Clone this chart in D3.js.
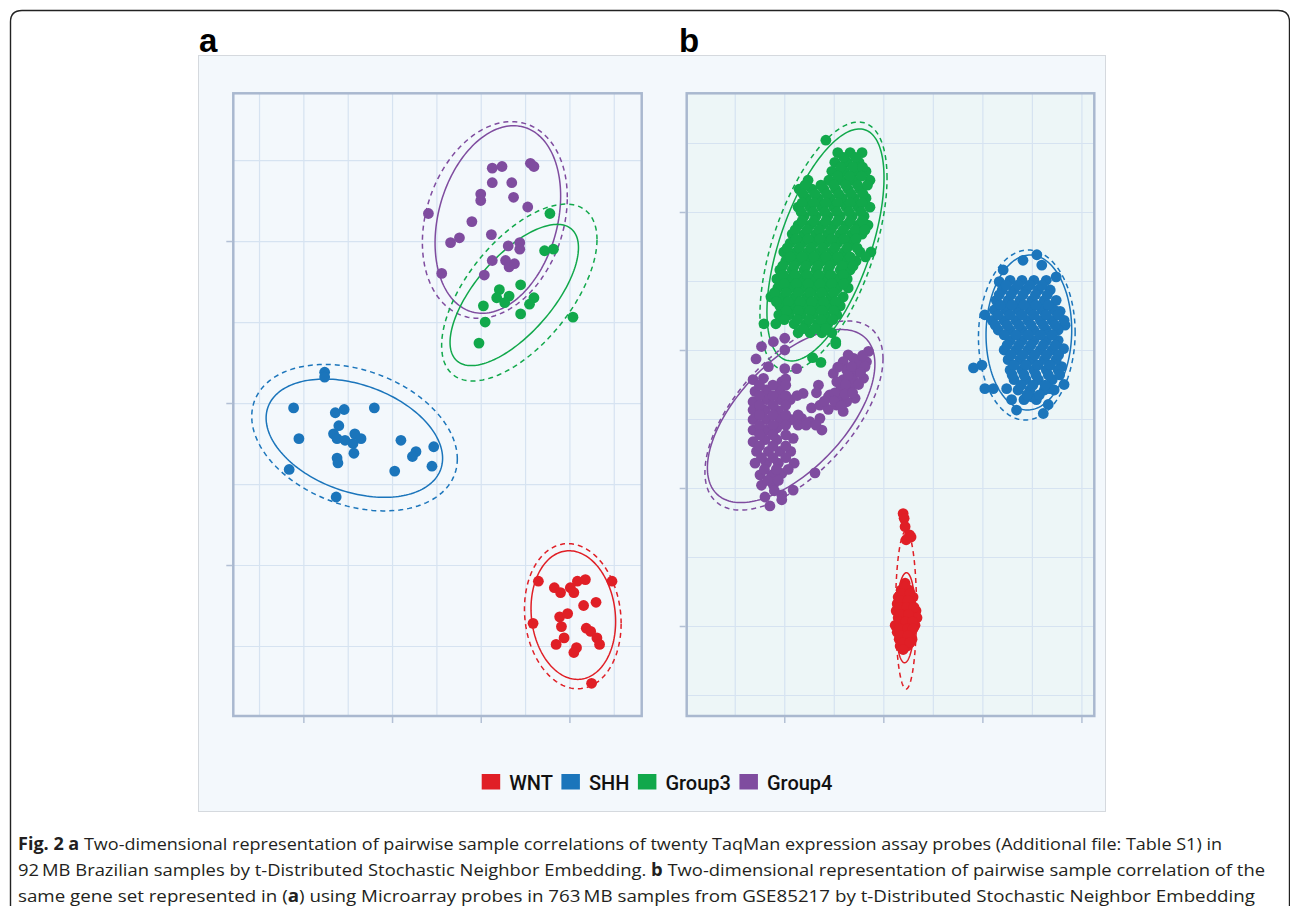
<!DOCTYPE html>
<html>
<head>
<meta charset="utf-8">
<script src="https://cdn.jsdelivr.net/npm/d3@7"></script>
<style>
  body { margin: 0; background: #fff; }
  svg { display: block; }
</style>
</head>
<body>
<svg id="fig" width="1290" height="906"></svg>
<script>
// ---- categories / colours ----
const groups = ["WNT", "SHH", "Group3", "Group4"];
const groupColors = ["#e01f26", "#1b75bb", "#11a84b", "#7f4c9f"];

// ---- panel a: 92 MB Brazilian samples (t-SNE coordinates) ----
const aWNT = [[16.5,-11.0],[24.8,-11.0],[18.3,-11.4],[19.0,-11.7],[20.1,-11.4],[20.5,-11.7],[20.9,-11.0],[21.8,-10.9],
  [21.6,-12.5],[23.0,-12.3],[15.9,-13.6],[18.9,-13.2],[19.8,-13.0],[19.1,-13.8],[19.4,-14.5],[18.5,-14.9],
  [21.9,-13.9],[22.4,-14.1],[23.1,-14.5],[23.4,-14.9],[20.8,-15.1],[20.5,-15.4],[22.5,-17.3]];
const aSHH = [[-7.6,1.9],[-7.6,1.6],[-11.1,-0.3],[-6.4,-0.6],[-5.4,-0.4],[-2.0,-0.3],[-10.5,-2.2],[-6.0,-1.4],
  [-6.6,-1.9],[-6.2,-2.2],[-5.3,-2.3],[-4.2,-1.9],[-4.4,-2.5],[-3.5,-2.2],[-4.3,-3.1],[-6.2,-3.4],[-6.1,-3.7],
  [1.0,-2.3],[4.7,-2.7],[2.7,-3.0],[2.3,-3.3],[4.5,-3.9],[0.3,-4.2],[-11.6,-4.1],[-6.3,-5.8]];
const aGroup3 = [[17.8,11.7],[17.2,9.4],[18.2,9.5],[14.5,7.3],[12.1,7.0],[11.8,6.5],[13.2,6.6],[12.7,6.2],
  [16.0,6.5],[15.5,6.1],[10.3,6.0],[14.5,5.5],[10.5,5.0],[20.4,5.3],[9.8,3.7]];
const aGroup4 = [[11.3,14.5],[12.4,14.6],[15.6,14.8],[16.0,14.6],[11.3,13.6],[13.5,13.6],[10.0,12.9],[10.0,12.5],
  [13.7,12.7],[15.3,12.1],[4.1,11.7],[9.0,11.2],[6.6,9.9],[7.6,10.2],[11.2,10.4],[13.1,9.7],[14.4,9.9],
  [14.4,9.5],[11.3,8.8],[12.8,8.8],[13.2,8.4],[13.8,8.6],[5.6,8.0],[10.4,7.9]];

// ellipses: centre, half-extent on each axis, correlation; "norm" solid, "t" dashed
const aEllipses = [
  {group: "Group4", level: "norm", cx: 11.93, cy: 11.33, hx: 7.08, hy: 5.79, r: 0.25},
  {group: "Group4", level: "t",    cx: 11.59, cy: 11.30, hx: 8.17, hy: 6.07, r: 0.23},
  {group: "Group3", level: "norm", cx: 13.78, cy: 6.67, hx: 7.24, hy: 4.36, r: 0.67},
  {group: "Group3", level: "t",    cx: 14.35, cy: 6.82, hx: 8.76, hy: 5.46, r: 0.60},
  {group: "SHH",    level: "norm", cx: -4.25, cy: -2.17, hx: 9.95, hy: 3.65, r: -0.34},
  {group: "SHH",    level: "t",    cx: -4.23, cy: -2.14, hx: 11.59, hy: 4.52, r: -0.29},
  {group: "WNT",    level: "norm", cx: 20.44, cy: -13.09, hx: 4.77, hy: 3.97, r: -0.10},
  {group: "WNT",    level: "t",    cx: 20.38, cy: -13.16, hx: 5.45, hy: 4.48, r: -0.10}
];

// ---- panel b: 763 MB samples, GSE85217 ----
const bWNT = [[4.0,-23.7],[4.2,-24.4],[4.4,-25.6],[5.3,-26.8],[4.6,-27.5],[5.6,-27.1],
  [4.4,-33.8],[3.6,-34.8],[5.2,-34.8],[3.0,-35.8],[4.6,-35.8],[6.0,-35.8],
  [2.8,-36.8],[4.2,-36.8],[5.6,-36.8],[2.6,-37.8],[4.0,-37.8],[5.4,-37.8],[6.6,-37.8],
  [3.0,-38.8],[4.4,-38.8],[5.8,-38.8],[6.8,-38.8],[2.4,-39.9],[3.8,-39.9],[5.2,-39.9],[6.4,-39.9],
  [2.8,-40.9],[4.2,-40.9],[5.6,-40.9],[3.2,-41.9],[4.6,-41.9],[5.8,-41.9],[3.4,-42.9],[4.8,-42.9],
  [4.4,-34.3],[3.8,-35.3],[5.4,-35.3],[3.4,-36.3],[5.0,-36.3],[3.3,-37.3],[4.8,-37.3],[6.2,-37.3],
  [3.5,-38.3],[5.1,-38.3],[3.2,-39.4],[4.5,-39.4],[5.9,-39.4],[3.2,-40.4],[4.9,-40.4],[6.0,-40.4],
  [3.5,-41.4],[5.0,-41.4],[4.0,-42.4],[5.4,-42.4],[4.0,-43.4]];
const bSHH = [[31.0,13.8],[28.2,13.0],[32.0,12.3],[24.2,11.6],[34.9,10.6],[23.4,9.9],[20.5,5.1],[18.2,-2.6],
  [19.9,-2.2],[20.5,-5.6],[22.2,-5.6],[24.9,-5.6],[36.7,3.6],[35.7,5.6],[36.4,0.2],[36.0,-2.4],[36.5,-5.0],
  [33.5,-5.6],[33.3,-7.9],[32.3,-9.2],[25.9,-7.2],[26.9,-8.7],[30.0,-6.8],
  [25.6,10.1],[28.0,10.1],[30.4,10.1],[32.9,10.1],
  [24.0,8.7],[26.4,8.7],[28.8,8.7],[31.3,8.7],[33.7,8.7],
  [22.8,7.2],[25.2,7.2],[27.6,7.2],[30.0,7.2],[32.5,7.2],[34.9,7.2],
  [22.4,5.8],[24.8,5.8],[27.2,5.8],[29.6,5.8],[32.1,5.8],[34.5,5.8],
  [22.0,4.3],[24.4,4.3],[26.8,4.3],[29.2,4.3],[31.7,4.3],[34.1,4.3],[36.5,4.3],
  [23.2,2.9],[25.6,2.9],[28.0,2.9],[30.4,2.9],[32.9,2.9],[35.3,2.9],
  [25.6,1.4],[28.0,1.4],[30.4,1.4],[32.9,1.4],[35.3,1.4],
  [24.4,0.0],[26.8,0.0],[29.2,0.0],[31.7,0.0],[34.1,0.0],
  [25.2,-1.4],[27.6,-1.4],[30.0,-1.4],[32.5,-1.4],[34.9,-1.4],
  [25.6,-2.9],[28.0,-2.9],[30.4,-2.9],[32.9,-2.9],[35.3,-2.9],
  [26.4,-4.3],[28.8,-4.3],[31.3,-4.3],[34.1,-4.3],
  [27.2,-5.8],[29.6,-5.8],[32.5,-5.8],[34.5,-5.8],[28.4,-7.2],[30.9,-7.2],
  [24.8,9.4],[27.2,9.4],[29.6,9.4],[32.1,9.4],
  [23.4,8.0],[25.8,8.0],[28.2,8.0],[30.7,8.0],[33.1,8.0],
  [23.6,6.5],[26.0,6.5],[28.4,6.5],[30.8,6.5],[33.3,6.5],
  [23.2,5.1],[25.6,5.1],[28.0,5.1],[30.4,5.1],[32.9,5.1],[35.3,5.1],
  [22.6,3.6],[25.0,3.6],[27.4,3.6],[29.8,3.6],[32.3,3.6],[34.7,3.6],
  [24.4,2.2],[26.8,2.2],[29.2,2.2],[31.7,2.2],[34.1,2.2],
  [25.0,0.7],[27.4,0.7],[29.8,0.7],[32.3,0.7],[34.7,0.7],
  [25.8,-0.7],[28.2,-0.7],[30.6,-0.7],[33.0,-0.7],[35.4,-0.7],
  [26.4,-2.2],[28.8,-2.2],[31.2,-2.2],[33.7,-2.2],
  [26.0,-3.6],[28.4,-3.6],[30.8,-3.6],[33.3,-3.6],[35.6,-3.6],
  [27.8,-5.1],[30.2,-5.1],[32.7,-5.1],[29.0,-6.5],[31.5,-6.5]];
const bGroup3 = [[-9.2,28.6],[-6.7,28.6],[-4.3,28.6],[-9.8,27.2],[-7.3,27.2],[-4.9,27.2],
  [-10.4,25.9],[-7.9,25.9],[-5.5,25.9],[-3.5,25.9],
  [-15.2,24.6],[-11.0,24.6],[-8.5,24.6],[-6.1,24.6],[-2.7,24.6],
  [-17.0,23.3],[-14.4,23.3],[-12.0,23.3],[-9.6,23.3],[-7.1,23.3],[-4.7,23.3],
  [-15.6,22.0],[-13.2,22.0],[-10.8,22.0],[-8.3,22.0],[-5.9,22.0],[-3.5,22.0],
  [-17.2,20.7],[-14.8,20.7],[-12.4,20.7],[-10.0,20.7],[-7.5,20.7],[-5.1,20.7],[-2.7,20.7],
  [-16.0,19.4],[-13.6,19.4],[-11.2,19.4],[-8.7,19.4],[-6.3,19.4],[-3.9,19.4],
  [-17.2,18.1],[-14.8,18.1],[-12.4,18.1],[-10.0,18.1],[-7.5,18.1],[-5.1,18.1],[-3.1,18.1],
  [-18.4,16.8],[-16.0,16.8],[-13.6,16.8],[-11.2,16.8],[-8.7,16.8],[-6.3,16.8],[-4.3,16.8],
  [-18.8,15.5],[-16.4,15.5],[-14.0,15.5],[-11.6,15.5],[-9.2,15.5],[-6.7,15.5],
  [-20.1,14.2],[-17.6,14.2],[-15.2,14.2],[-12.8,14.2],[-10.4,14.2],[-7.9,14.2],[-4.7,14.2],[-2.5,14.2],
  [-19.7,12.9],[-17.2,12.9],[-14.8,12.9],[-12.4,12.9],[-10.0,12.9],[-7.5,12.9],[-5.5,12.9],
  [-20.9,11.6],[-18.4,11.6],[-16.0,11.6],[-13.6,11.6],[-11.2,11.6],[-8.7,11.6],[-6.7,11.6],
  [-21.5,10.3],[-19.0,10.3],[-16.6,10.3],[-14.2,10.3],[-11.8,10.3],[-9.4,10.3],[-7.3,10.3],
  [-21.3,9.0],[-18.8,9.0],[-16.4,9.0],[-14.0,9.0],[-11.6,9.0],[-9.2,9.0],[-7.1,9.0],
  [-22.7,7.7],[-20.3,7.7],[-17.8,7.7],[-15.4,7.7],[-13.0,7.7],[-10.6,7.7],[-8.1,7.7],
  [-20.9,6.4],[-18.4,6.4],[-16.0,6.4],[-13.6,6.4],[-11.2,6.4],[-8.7,6.4],
  [-21.1,5.1],[-19.0,5.1],[-16.6,5.1],[-14.2,5.1],[-11.8,5.1],[-9.4,5.1],
  [-24.1,3.8],[-21.7,3.8],[-18.0,3.8],[-15.6,3.8],[-13.2,3.8],[-11.2,3.8],
  [-17.2,2.5],[-14.8,2.5],[-12.4,2.5],[-10.4,2.5],[-9.6,1.2],
  [-11.6,30.4],[-14.3,-1.1],[-12.6,-1.8],[-9.6,0.9],
  [-8.0,27.9],[-5.6,27.9],[-8.6,26.5],[-6.1,26.5],[-4.2,26.5],[-9.2,25.2],[-6.8,25.2],[-4.4,25.2],
  [-15.8,23.9],[-12.6,23.9],[-10.0,23.9],[-7.6,23.9],[-5.2,23.9],[-3.2,23.9],
  [-16.2,22.6],[-13.8,22.6],[-11.4,22.6],[-9.0,22.6],[-6.5,22.6],[-4.1,22.6],
  [-16.4,21.3],[-14.0,21.3],[-11.6,21.3],[-9.2,21.3],[-6.7,21.3],[-4.3,21.3],
  [-16.6,20.0],[-14.2,20.0],[-11.8,20.0],[-9.4,20.0],[-6.9,20.0],[-4.5,20.0],
  [-16.4,18.7],[-14.0,18.7],[-11.6,18.7],[-9.2,18.7],[-6.7,18.7],[-4.3,18.7],
  [-17.8,17.4],[-15.4,17.4],[-13.0,17.4],[-10.6,17.4],[-8.1,17.4],[-5.7,17.4],[-3.7,17.4],
  [-17.6,16.1],[-15.2,16.1],[-12.8,16.1],[-10.4,16.1],[-7.9,16.1],[-5.5,16.1],
  [-19.4,14.8],[-17.0,14.8],[-14.6,14.8],[-12.2,14.8],[-9.8,14.8],[-7.3,14.8],[-5.3,14.8],
  [-18.8,13.5],[-16.4,13.5],[-14.0,13.5],[-11.6,13.5],[-9.2,13.5],[-6.7,13.5],[-3.6,13.5],
  [-20.3,12.2],[-18.0,12.2],[-15.6,12.2],[-13.2,12.2],[-10.8,12.2],[-8.3,12.2],[-6.1,12.2],
  [-20.2,10.9],[-17.8,10.9],[-15.4,10.9],[-13.0,10.9],[-10.6,10.9],[-8.1,10.9],
  [-20.0,9.6],[-17.6,9.6],[-15.2,9.6],[-12.8,9.6],[-10.4,9.6],[-8.0,9.6],
  [-22.0,8.3],[-19.6,8.3],[-17.2,8.3],[-14.8,8.3],[-12.4,8.3],[-10.0,8.3],
  [-21.6,7.0],[-19.2,7.0],[-16.8,7.0],[-14.4,7.0],[-12.0,7.0],[-9.6,7.0],
  [-19.6,5.7],[-17.2,5.7],[-14.8,5.7],[-12.4,5.7],[-10.0,5.7],
  [-20.0,4.4],[-17.4,4.4],[-15.0,4.4],[-12.6,4.4],[-10.2,4.4],
  [-16.2,3.1],[-13.8,3.1],[-11.6,3.1]];
const bGroup4 = [[-24.6,0.5],[-25.7,-1.3],[-19.9,1.7],[-19.9,0.0],[-22.2,1.2],[-23.2,-2.4],[-19.9,-2.7],[-17.5,-2.7],
  [-26.3,-4.3],[-24.2,-4.1],[-20.5,-4.6],[-19.7,-4.2],[-16.2,-6.3],[-13.1,-5.1],[-13.5,-6.2],
  [-25.9,-6.0],[-23.6,-5.8],[-20.9,-5.8],[-26.3,-7.5],[-23.6,-7.2],[-20.9,-7.2],[-18.8,-7.2],
  [-26.3,-8.7],[-23.9,-8.7],[-21.2,-8.8],
  [-26.3,-10.1],[-23.6,-10.1],[-20.9,-10.1],[-18.5,-10.1],[-16.5,-9.9],[-14.8,-10.4],[-12.8,-9.9],
  [-14.5,-8.4],[-12.8,-8.0],[-11.1,-8.6],[-12.4,-11.6],
  [-26.3,-11.6],[-23.6,-11.6],[-21.5,-11.3],[-26.3,-13.3],[-23.9,-13.0],[-21.5,-13.0],[-18.2,-12.8],
  [-25.6,-14.7],[-23.2,-14.7],[-20.9,-14.7],[-18.7,-14.7],[-25.9,-16.4],[-23.6,-16.4],[-21.2,-16.4],[-18.0,-16.4],
  [-24.9,-18.1],[-22.5,-18.1],[-20.5,-17.9],[-24.6,-19.6],[-22.2,-19.6],
  [-23.9,-21.3],[-20.5,-21.0],[-18.2,-20.3],[-13.8,-17.8],[-22.9,-22.6],[-20.5,-21.7],
  [-3.0,-0.2],[-7.1,-0.7],[-8.1,-1.7],[-5.1,-1.9],[-3.4,-1.7],[-10.1,-3.4],[-7.4,-2.9],[-5.4,-3.1],
  [-3.7,-2.4],[-8.1,-4.3],[-6.1,-4.3],[-4.0,-4.1],[-8.7,-5.8],[-6.7,-5.6],[-10.8,-6.5],[-8.7,-7.0],
  [-5.7,-7.0],[-7.4,-7.5],[-8.1,-8.9],[-9.4,-8.0],[-11.1,-6.8],
  [-25.0,-5.1],[-22.3,-5.1],[-19.7,-5.1],[-25.0,-6.6],[-22.3,-6.6],[-19.7,-6.6],[-17.4,-6.6],
  [-25.0,-8.0],[-22.3,-8.0],[-19.7,-8.0],[-25.0,-9.4],[-22.3,-9.4],[-19.7,-9.4],[-17.2,-9.4],
  [-25.0,-10.9],[-22.3,-10.9],[-19.7,-10.9],[-17.2,-10.9],[-15.6,-10.9],[-13.6,-10.9],
  [-25.0,-12.3],[-22.3,-12.3],[-19.7,-12.3],[-25.0,-13.9],[-22.3,-13.9],[-19.7,-13.9],
  [-24.6,-15.6],[-22.3,-15.6],[-19.7,-15.6],[-24.0,-17.3],[-21.6,-17.3],[-19.2,-17.3],
  [-23.4,-18.9],[-21.2,-18.9],[-22.0,-20.4],
  [-6.0,-1.2],[-4.2,-0.8],[-9.2,-2.5],[-6.4,-2.4],[-4.6,-3.3],[-7.1,-3.7],[-9.4,-4.6],[-5.0,-5.0],
  [-7.6,-5.0],[-9.8,-6.2],[-7.7,-6.4],[-6.2,-6.2],[-9.9,-7.4],[-8.5,-8.1],[-11.9,-7.4]];

const bEllipses = [
  {group: "Group3", level: "norm", cx: -11.68, cy: 15.22, hx: 11.82, hy: 16.81, r: 0.58},
  {group: "Group3", level: "t",    cx: -12.08, cy: 15.00, hx: 12.83, hy: 18.04, r: 0.55},
  {group: "Group4", level: "norm", cx: -18.61, cy: -9.57, hx: 16.91, hy: 12.54, r: 0.60},
  {group: "Group4", level: "t",    cx: -18.04, cy: -9.49, hx: 17.98, hy: 13.70, r: 0.60},
  {group: "SHH",    level: "norm", cx: 29.39, cy: 2.54, hx: 8.65, hy: 11.23, r: 0.03},
  {group: "SHH",    level: "t",    cx: 28.97, cy: 2.17, hx: 9.76, hy: 12.32, r: 0.03},
  {group: "WNT",    level: "norm", cx: 4.48, cy: -38.80, hx: 1.92, hy: 6.52, r: 0.10},
  {group: "WNT",    level: "t",    cx: 4.59, cy: -37.68, hx: 2.12, hy: 11.45, r: 0.00}
];

// grid / tick values (no labels shown in the figure)
const aGridX = [-15, -10, -5, 0, 5, 10, 15, 20, 25], aMajorX = [-10, 0, 10, 20];
const aGridY = [-15, -10, -5, 0, 5, 10, 15],        aMajorY = [-10, 0, 10];
const bGridX = [-30, -20, -10, 0, 10, 20, 30, 40],  bMajorX = [-20, 0, 20, 40];
const bGridY = [30, 20, 10, 0, -10, -20, -30, -40, -50], bMajorY = [20, 0, -20, -40];

const captionLines = [
  [["Fig. 2 a", true], [" Two-dimensional representation of pairwise sample correlations of twenty TaqMan expression assay probes (Additional file: Table S1) in", false]],
  [["92\u2009MB Brazilian samples by t-Distributed Stochastic Neighbor Embedding. ", false], ["b", true], [" Two-dimensional representation of pairwise sample correlation of the", false]],
  [["same gene set represented in (", false], ["a", true], [") using Microarray probes in 763\u2009MB samples from GSE85217 by t-Distributed Stochastic Neighbor Embedding", false]]
];
const captionWidths = [1204, 1247, 1237];

// -------------------------------------------------------------
const svg = d3.select("#fig");
const color = d3.scaleOrdinal().domain(groups).range(groupColors);

// outer rounded frame of the figure box
svg.append("path")
  .attr("d", "M10.5,906 V22 Q10.5,10.5 22,10.5 H1278 Q1289.5,10.5 1289.5,22 V906")
  .attr("fill", "none").attr("stroke", "#222").attr("stroke-width", 1.4);

// light figure background
svg.append("rect")
  .attr("x", 198.5).attr("y", 55.5).attr("width", 907).attr("height", 756)
  .attr("fill", "#f3f8fc").attr("stroke", "#d5d9de").attr("stroke-width", 1);

function drawPanel(opt) {
  const { x0, x1, y0, y1, xDom, yDom, gridX, gridY, majorX, majorY, series, ellipses, fill, label } = opt;
  const x = d3.scaleLinear().domain(xDom).range([x0, x1]);
  const y = d3.scaleLinear().domain(yDom).range([y1, y0]);
  const g = svg.append("g");

  g.append("rect").attr("x", x0).attr("y", y0).attr("width", x1 - x0).attr("height", y1 - y0)
    .attr("fill", fill);

  // gridlines
  g.append("g").attr("transform", `translate(0,${y1})`)
    .call(d3.axisBottom(x).tickValues(gridX).tickSize(-(y1 - y0)).tickFormat(""))
    .call(s => s.select(".domain").remove())
    .selectAll("line").attr("stroke", "#d6e3f1").attr("stroke-width", 1.2);
  g.append("g").attr("transform", `translate(${x0},0)`)
    .call(d3.axisLeft(y).tickValues(gridY).tickSize(-(x1 - x0)).tickFormat(""))
    .call(s => s.select(".domain").remove())
    .selectAll("line").attr("stroke", "#d6e3f1").attr("stroke-width", 1.2);

  // ellipses
  const ell = d3.line().curve(d3.curveLinearClosed);
  const angles = d3.range(0, 360, 2).map(a => a * Math.PI / 180);
  g.append("g").selectAll("path").data(ellipses).join("path")
    .attr("d", e => ell(angles.map(t => [
      x(e.cx + e.hx * Math.cos(t)),
      y(e.cy + e.hy * (e.r * Math.cos(t) + Math.sqrt(1 - e.r * e.r) * Math.sin(t)))
    ])))
    .attr("fill", "none")
    .attr("stroke", e => color(e.group))
    .attr("stroke-width", 1.5)
    .attr("stroke-dasharray", e => e.level === "t" ? "5,4" : null);

  // points
  series.forEach(s => {
    g.append("g").selectAll("circle").data(s.values).join("circle")
      .attr("cx", d => x(d[0])).attr("cy", d => y(d[1]))
      .attr("r", 5.4).attr("fill", color(s.group));
  });

  // frame + major tick marks
  g.append("rect").attr("x", x0).attr("y", y0).attr("width", x1 - x0).attr("height", y1 - y0)
    .attr("fill", "none").attr("stroke", "#a9b8cf").attr("stroke-width", 2.5);
  g.append("g").attr("transform", `translate(0,${y1 + 1})`)
    .call(d3.axisBottom(x).tickValues(majorX).tickSize(6).tickSizeOuter(0).tickFormat(""))
    .call(s => s.select(".domain").remove())
    .selectAll("line").attr("stroke", "#b3c0d5").attr("stroke-width", 1.5);
  g.append("g").attr("transform", `translate(${x0 - 1},0)`)
    .call(d3.axisLeft(y).tickValues(majorY).tickSize(6).tickSizeOuter(0).tickFormat(""))
    .call(s => s.select(".domain").remove())
    .selectAll("line").attr("stroke", "#b3c0d5").attr("stroke-width", 1.5);

  svg.append("text").attr("x", label.x).attr("y", 51.5)
    .attr("font-family", "Liberation Sans, Arial, sans-serif").attr("font-weight", "bold")
    .attr("font-size", 33).attr("fill", "#000").text(label.text);
}

drawPanel({
  x0: 233.3, x1: 641.7, y0: 93.3, y1: 716,
  xDom: [-17.9, 28.15], yDom: [-19.32, 19.12],
  gridX: aGridX, gridY: aGridY, majorX: aMajorX, majorY: aMajorY,
  series: [{group: "WNT", values: aWNT}, {group: "SHH", values: aSHH},
           {group: "Group3", values: aGroup3}, {group: "Group4", values: aGroup4}],
  ellipses: aEllipses, fill: "#f3f8fc", label: {x: 199, text: "a"}
});
drawPanel({
  x0: 686.7, x1: 1094.3, y0: 93.3, y1: 716,
  xDom: [-39.7, 42.6], yDom: [-53.04, 37.2],
  gridX: bGridX, gridY: bGridY, majorX: bMajorX, majorY: bMajorY,
  series: [{group: "WNT", values: bWNT}, {group: "SHH", values: bSHH},
           {group: "Group3", values: bGroup3}, {group: "Group4", values: bGroup4}],
  ellipses: bEllipses, fill: "#edf6f7", label: {x: 679, text: "b"}
});

// legend
const legend = svg.append("g").attr("transform", "translate(481.7,0)");
let lx = 0;
groups.forEach(gname => {
  legend.append("rect").attr("x", lx).attr("y", 774).attr("width", 18.5).attr("height", 15.5)
    .attr("fill", color(gname));
  const t = legend.append("text").attr("x", lx + 27.5).attr("y", 790)
    .attr("font-family", "Roboto, sans-serif").attr("font-weight", 500)
    .attr("font-size", 20).attr("fill", "#111").text(gname);
  lx += 27.5 + t.node().getComputedTextLength() + 8.5;
});

// caption (last line sits right at the bottom edge, as in the source page)
captionLines.forEach((parts, i) => {
  const t = svg.append("text").attr("x", 18).attr("y", 850 + i * 26)
    .attr("font-family", "Open Sans, sans-serif").attr("font-size", 17).attr("fill", "#231f20")
    .attr("textLength", captionWidths[i]).attr("lengthAdjust", "spacingAndGlyphs");
  parts.forEach(([txt, bold]) => {
    t.append("tspan").attr("font-weight", bold ? 700 : 400).text(txt);
  });
});
</script>
</body>
</html>
